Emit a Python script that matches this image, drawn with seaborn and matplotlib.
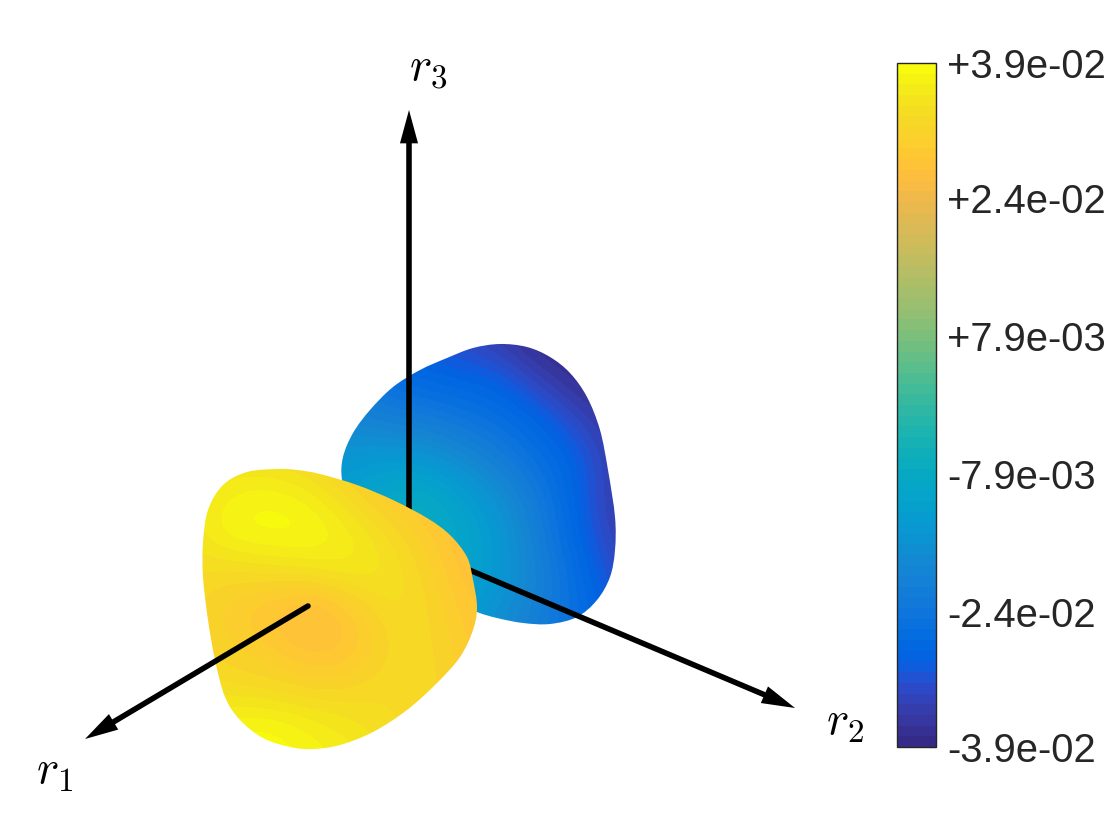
# lobes of a 3D response surface, drawn flat from values
import matplotlib
matplotlib.use("Agg")
import matplotlib.pyplot as plt
from matplotlib.colors import ListedColormap
from matplotlib.path import Path
from matplotlib.patches import PathPatch
import seaborn as sns

# yellow lobe outline
yellow_outline_x = [277, 247, 223, 208, 203, 203, 208, 215, 225, 240, 263, 290, 313, 340,
                    373, 407, 437, 460, 473, 477, 473, 467, 450, 427, 393, 357, 320, 297]
yellow_outline_y = [469, 472, 485, 510, 543, 577, 620, 660, 697, 720, 738, 747, 749, 745,
                    732, 710, 683, 657, 630, 607, 580, 557, 535, 518, 500, 485, 474, 470]

# blue lobe outline, the last points sit behind the yellow lobe
blue_outline_x = [342, 343, 353, 370, 393, 420, 447, 473, 500, 527, 550, 570, 587, 600,
                  608, 615, 615, 610, 597, 577, 550, 523, 497, 477, 445, 400, 350]
blue_outline_y = [480, 457, 433, 410, 387, 370, 358, 348, 344, 347, 357, 373, 397, 430,
                  470, 517, 550, 577, 600, 617, 624, 623, 618, 612, 598, 560, 510]

# surface value at grid nodes, in units of 1e-3
yellow_grid_x = [190, 230, 270, 310, 350, 390, 430, 470, 510]
yellow_grid_y = [450, 490, 530, 570, 610, 650, 690, 730, 770]
yellow_values = [
    [33.0, 33.0, 32.0, 31.0, 30.0, 29.0, 28.0, 27.0, 27.0],
    [34.0, 36.5, 37.5, 35.5, 31.5, 28.5, 27.0, 26.5, 26.0],
    [34.5, 38.5, 39.0, 39.0, 36.0, 32.5, 29.0, 26.0, 26.0],
    [33.0, 32.5, 33.5, 34.5, 36.0, 34.5, 31.0, 26.5, 26.5],
    [32.0, 29.5, 27.5, 24.5, 28.5, 33.5, 32.0, 28.0, 27.5],
    [32.5, 30.5, 29.5, 27.0, 27.5, 32.0, 32.5, 29.0, 27.5],
    [34.0, 33.0, 32.5, 31.5, 32.0, 33.0, 32.5, 29.5, 28.0],
    [37.5, 38.5, 39.0, 37.0, 35.0, 33.0, 31.5, 29.5, 28.0],
    [38.0, 38.5, 38.5, 37.5, 36.5, 34.5, 32.5, 30.0, 29.0],
]

blue_grid_x = [340, 380, 420, 460, 500, 540, 580, 620]
blue_grid_y = [340, 380, 420, 460, 500, 540, 580, 620]
blue_values = [
    [-25, -28, -31, -33, -35, -39, -39, -39],
    [-21, -25, -27, -28, -29, -34, -38, -39],
    [-18, -20, -21, -23, -25, -28, -33, -37],
    [-15, -13, -14, -17, -21, -25, -29, -36],
    [-12, -9, -7, -11, -16, -22, -29, -36],
    [-12, -9, -7, -9, -14, -21, -28, -35],
    [-13, -10, -9, -10, -14, -19.5, -26, -33],
    [-15, -13, -12, -13, -17, -21, -26, -29],
]

# axis shafts and arrow tips
r1_shaft_x = [308, 110]
r1_shaft_y = [606, 724]
r1_tip = (85, 739)
r2_shaft_x = [460, 765]
r2_shaft_y = [566, 695]
r2_tip = (795, 708)
r3_shaft_x = [409, 409]
r3_shaft_y = [512, 143]
r3_tip = (409, 110)

tick_values = [39, 23.6, 7.9, -7.9, -23.6, -39]
tick_labels = ["+3.9e-02", "+2.4e-02", "+7.9e-03", "-7.9e-03", "-2.4e-02", "-3.9e-02"]

parula = ListedColormap([
    [0.2081, 0.1663, 0.5292], [0.2116, 0.1898, 0.5777], [0.2123, 0.2138, 0.6270], [0.2081, 0.2386, 0.6771],
    [0.1959, 0.2645, 0.7279], [0.1707, 0.2919, 0.7792], [0.1253, 0.3242, 0.8303], [0.0591, 0.3598, 0.8683],
    [0.0117, 0.3875, 0.8820], [0.0060, 0.4086, 0.8828], [0.0165, 0.4266, 0.8786], [0.0329, 0.4430, 0.8720],
    [0.0498, 0.4586, 0.8641], [0.0629, 0.4737, 0.8554], [0.0723, 0.4887, 0.8467], [0.0779, 0.5040, 0.8384],
    [0.0793, 0.5200, 0.8312], [0.0749, 0.5375, 0.8263], [0.0641, 0.5570, 0.8240], [0.0488, 0.5772, 0.8228],
    [0.0343, 0.5966, 0.8199], [0.0265, 0.6137, 0.8135], [0.0239, 0.6287, 0.8038], [0.0231, 0.6418, 0.7913],
    [0.0228, 0.6535, 0.7768], [0.0267, 0.6642, 0.7607], [0.0384, 0.6743, 0.7436], [0.0590, 0.6838, 0.7254],
    [0.0843, 0.6928, 0.7062], [0.1133, 0.7015, 0.6859], [0.1453, 0.7098, 0.6646], [0.1801, 0.7177, 0.6424],
    [0.2178, 0.7250, 0.6193], [0.2586, 0.7317, 0.5954], [0.3022, 0.7376, 0.5712], [0.3482, 0.7424, 0.5473],
    [0.3953, 0.7459, 0.5244], [0.4420, 0.7481, 0.5033], [0.4871, 0.7491, 0.4840], [0.5300, 0.7491, 0.4661],
    [0.5709, 0.7485, 0.4494], [0.6099, 0.7473, 0.4337], [0.6473, 0.7456, 0.4188], [0.6834, 0.7435, 0.4044],
    [0.7184, 0.7411, 0.3905], [0.7525, 0.7384, 0.3768], [0.7858, 0.7356, 0.3633], [0.8185, 0.7327, 0.3498],
    [0.8507, 0.7299, 0.3360], [0.8824, 0.7274, 0.3217], [0.9139, 0.7258, 0.3063], [0.9450, 0.7261, 0.2886],
    [0.9739, 0.7314, 0.2666], [0.9938, 0.7455, 0.2403], [0.9990, 0.7653, 0.2164], [0.9955, 0.7861, 0.1967],
    [0.9880, 0.8066, 0.1794], [0.9789, 0.8271, 0.1633], [0.9697, 0.8481, 0.1475], [0.9626, 0.8705, 0.1309],
    [0.9589, 0.8949, 0.1132], [0.9598, 0.9218, 0.0948], [0.9661, 0.9514, 0.0755], [0.9763, 0.9831, 0.0538],
])

sns.set_theme(style="white")
plt.rcParams["font.family"] = ["Liberation Sans", "DejaVu Sans"]
plt.rcParams["mathtext.fontset"] = "cm"

fig = plt.figure(figsize=(11.2, 8.4), dpi=100)
ax = fig.add_axes([0, 0, 1, 1])


def smooth_path(xs, ys):
    # closed Catmull-Rom outline written as bezier segments, goes through every point
    pts = list(zip(xs, ys))
    n = len(pts)
    verts = [pts[0]]
    codes = [Path.MOVETO]
    for i in range(n):
        p0, p1, p2, p3 = pts[i - 1], pts[i], pts[(i + 1) % n], pts[(i + 2) % n]
        c1 = (p1[0] + (p2[0] - p0[0]) / 6, p1[1] + (p2[1] - p0[1]) / 6)
        c2 = (p2[0] - (p3[0] - p1[0]) / 6, p2[1] - (p3[1] - p1[1]) / 6)
        verts += [c1, c2, p2]
        codes += [Path.CURVE4, Path.CURVE4, Path.CURVE4]
    return Path(verts, codes)


def draw_lobe(grid_x, grid_y, values, out_x, out_y, z):
    dx = (grid_x[1] - grid_x[0]) / 2
    dy = (grid_y[1] - grid_y[0]) / 2
    im = ax.imshow(values, cmap=parula, vmin=-39, vmax=39, interpolation="bicubic", aspect="auto",
                   extent=(grid_x[0] - dx, grid_x[-1] + dx, grid_y[-1] + dy, grid_y[0] - dy), zorder=z)
    im.set_clip_path(PathPatch(smooth_path(out_x, out_y), transform=ax.transData))
    return im


def draw_shaft(xs, ys, tip, z):
    sns.lineplot(x=xs, y=ys, sort=False, estimator=None, color="black", linewidth=4.0, ax=ax,
                 zorder=z, solid_capstyle="round")
    ax.annotate("", xy=tip, xytext=(xs[-1], ys[-1]), zorder=z,
                arrowprops=dict(arrowstyle="-|>,head_length=24,head_width=6.5", mutation_scale=1,
                                shrinkA=0, shrinkB=0, color="black", linewidth=0))


im = draw_lobe(blue_grid_x, blue_grid_y, blue_values, blue_outline_x, blue_outline_y, 1)
draw_shaft(r3_shaft_x, r3_shaft_y, r3_tip, 2)
draw_shaft(r2_shaft_x, r2_shaft_y, r2_tip, 2)
draw_lobe(yellow_grid_x, yellow_grid_y, yellow_values, yellow_outline_x, yellow_outline_y, 3)
draw_shaft(r1_shaft_x, r1_shaft_y, r1_tip, 4)

ax.set_xlim(0, 1120)
ax.set_ylim(840, 0)
ax.axis("off")

ax.text(55, 772, r"$r_1$", fontsize=34, ha="center", va="center", color="black")
ax.text(845, 723, r"$r_2$", fontsize=34, ha="center", va="center", color="black")
ax.text(428, 68, r"$r_3$", fontsize=34, ha="center", va="center", color="black")

# colorbar
cax = fig.add_axes([897 / 1120, 1 - 747 / 840, 39 / 1120, 684 / 840])
cbar = fig.colorbar(im, cax=cax, ticks=tick_values)
cbar.set_ticklabels(tick_labels)
cbar.ax.tick_params(direction="in", length=5, width=0.8, color="#262626", labelsize=28.8,
                    labelcolor="#262626", pad=8, right=True)
cbar.outline.set_edgecolor("#262626")
cbar.outline.set_linewidth(1.0)

fig.savefig("out.png", dpi=100)
